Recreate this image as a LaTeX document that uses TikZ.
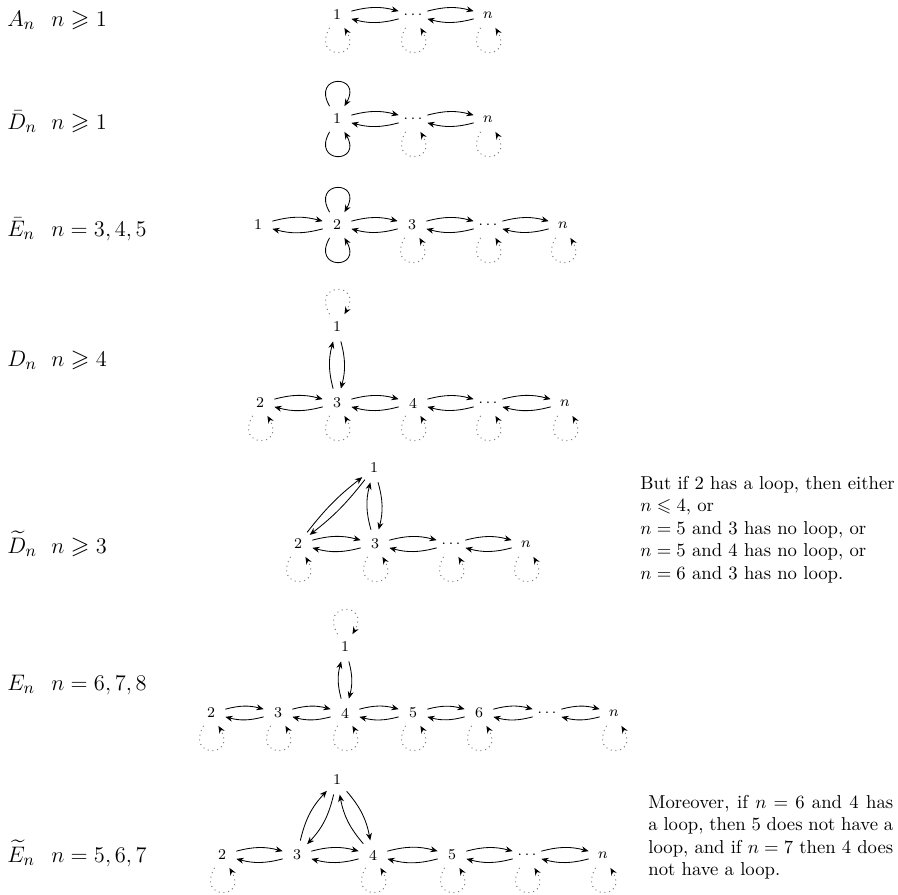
\documentclass[tikz,border=0pt]{standalone}
\usepackage{amssymb}
\usetikzlibrary{arrows.meta}
\begin{document}
\begin{tikzpicture}[x=0.535pt,y=0.535pt,
  v/.style={circle,inner sep=0pt,minimum size=15.5pt,font=\fontsize{8}{9}\selectfont},
  lab/.style={anchor=base west,inner sep=0pt,font=\fontsize{13}{16}\selectfont},
  ar/.style={-{Stealth[length=3.9pt,width=3.2pt]},line width=0.45pt},
  pr/.style={ar,bend left=15},
  dg/.style={ar,bend left=7},
  dl/.style={draw=gray,dotted,line width=0.55pt,-{Stealth[length=3.9pt,width=3.2pt,color=black]}},
  sl/.style={ar},
  lb/.style={out=240,in=300,min distance=20pt,max distance=20pt},
  la/.style={out=120,in=60,min distance=20pt,max distance=20pt},
  txt/.style={anchor=north west,inner sep=0pt,font=\fontsize{10}{12}\selectfont}
]
\useasboundingbox (0,0) rectangle (898,-894);

% ---------- labels ----------
\node[lab] (LA)  at (7,-26)  {$A_n$};
\node[lab] (CA)  at (51,-26) {$n\geqslant 1$};
\node[lab] (LDb) at (7,-129) {$\bar{D}_n$};
\node[lab] (CDb) at (51,-129) {$n\geqslant 1$};
\node[lab] (LEb) at (7,-236) {$\bar{E}_n$};
\node[lab] (CEb) at (51,-236) {$n=3,4,5$};
\node[lab] (LD)  at (7,-366) {$D_n$};
\node[lab] (CD)  at (51,-366) {$n\geqslant 4$};
\node[lab] (LDt) at (7,-553) {$\widetilde{D}_n$};
\node[lab] (CDt) at (51,-553) {$n\geqslant 3$};
\node[lab] (LE)  at (7,-690) {$E_n$};
\node[lab] (CE)  at (51,-690) {$n=6,7,8$};
\node[lab] (LEt) at (7,-862) {$\widetilde{E}_n$};
\node[lab] (CEt) at (51,-862) {$n=5,6,7$};

% ---------- A_n ----------
\node[v] (a1) at (337,-15) {1};
\node[v] (a2) at (413,-15) {$\cdotp\cdotp\cdotp$};
\node[v] (a3) at (488,-15) {$n$};
\draw[pr] (a1) to (a2); \draw[pr] (a2) to (a1);
\draw[pr] (a2) to (a3); \draw[pr] (a3) to (a2);
\foreach \q in {a1,a2,a3} \draw[dl] (\q) to[lb] (\q);

% ---------- bar D_n ----------
\node[v] (b1) at (337,-119) {1};
\node[v] (b2) at (413,-119) {$\cdotp\cdotp\cdotp$};
\node[v] (b3) at (488,-119) {$n$};
\draw[pr] (b1) to (b2); \draw[pr] (b2) to (b1);
\draw[pr] (b2) to (b3); \draw[pr] (b3) to (b2);
\draw[sl] (b1) to[la] (b1);
\draw[sl] (b1) to[lb] (b1);
\foreach \q in {b2,b3} \draw[dl] (\q) to[lb] (\q);

% ---------- bar E_n ----------
\node[v] (c1) at (258,-225) {1};
\node[v] (c2) at (337,-225) {2};
\node[v] (c3) at (412,-225) {3};
\node[v] (c4) at (488,-225) {$\cdotp\cdotp\cdotp$};
\node[v] (c5) at (563,-225) {$n$};
\draw[pr] (c1) to (c2); \draw[pr] (c2) to (c1);
\draw[pr] (c2) to (c3); \draw[pr] (c3) to (c2);
\draw[pr] (c3) to (c4); \draw[pr] (c4) to (c3);
\draw[pr] (c4) to (c5); \draw[pr] (c5) to (c4);
\draw[sl] (c2) to[la] (c2);
\draw[sl] (c2) to[lb] (c2);
\foreach \q in {c3,c4,c5} \draw[dl] (\q) to[lb] (\q);

% ---------- D_n ----------
\node[v] (d1) at (337,-327) {1};
\node[v] (d2) at (260,-403) {2};
\node[v] (d3) at (337,-403) {3};
\node[v] (d4) at (413,-403) {4};
\node[v] (d5) at (488,-403) {$\cdotp\cdotp\cdotp$};
\node[v] (d6) at (565,-403) {$n$};
\draw[pr] (d2) to (d3); \draw[pr] (d3) to (d2);
\draw[pr] (d3) to (d4); \draw[pr] (d4) to (d3);
\draw[pr] (d4) to (d5); \draw[pr] (d5) to (d4);
\draw[pr] (d5) to (d6); \draw[pr] (d6) to (d5);
\draw[pr] (d3) to (d1); \draw[pr] (d1) to (d3);
\draw[dl] (d1) to[la] (d1);
\foreach \q in {d2,d3,d4,d5,d6} \draw[dl] (\q) to[lb] (\q);

% ---------- tilde D_n ----------
\node[v] (e1) at (374,-468) {1};
\node[v] (e2) at (298,-544) {2};
\node[v] (e3) at (375,-544) {3};
\node[v] (e4) at (451,-544) {$\cdotp\cdotp\cdotp$};
\node[v] (e5) at (526,-544) {$n$};
\draw[pr] (e2) to (e3); \draw[pr] (e3) to (e2);
\draw[pr] (e3) to (e4); \draw[pr] (e4) to (e3);
\draw[pr] (e4) to (e5); \draw[pr] (e5) to (e4);
\draw[dg] (e2) to (e1); \draw[dg] (e1) to (e2);
\draw[pr] (e3) to (e1); \draw[pr] (e1) to (e3);
\foreach \q in {e2,e3,e4,e5} \draw[dl] (\q) to[lb] (\q);

% ---------- E_n ----------
\node[v] (f1) at (345,-647) {1};
\node[v] (f2) at (211,-713) {2};
\node[v] (f3) at (278,-713) {3};
\node[v] (f4) at (345,-713) {4};
\node[v] (f5) at (413,-713) {5};
\node[v] (f6) at (479,-713) {6};
\node[v] (f7) at (547,-713) {$\cdotp\cdotp\cdotp$};
\node[v] (f8) at (614,-713) {$n$};
\draw[pr] (f2) to (f3); \draw[pr] (f3) to (f2);
\draw[pr] (f3) to (f4); \draw[pr] (f4) to (f3);
\draw[pr] (f4) to (f5); \draw[pr] (f5) to (f4);
\draw[pr] (f5) to (f6); \draw[pr] (f6) to (f5);
\draw[pr] (f6) to (f7); \draw[pr] (f7) to (f6);
\draw[pr] (f7) to (f8); \draw[pr] (f8) to (f7);
\draw[pr] (f4) to (f1); \draw[pr] (f1) to (f4);
\draw[dl] (f1) to[la] (f1);
\foreach \q in {f2,f3,f4,f5,f6,f8} \draw[dl] (\q) to[lb] (\q);

% ---------- tilde E_n ----------
\node[v] (g1) at (337,-780) {1};
\node[v] (g2) at (222,-855) {2};
\node[v] (g3) at (297,-855) {3};
\node[v] (g4) at (373,-855) {4};
\node[v] (g5) at (452,-855) {5};
\node[v] (g6) at (527,-855) {$\cdotp\cdotp\cdotp$};
\node[v] (g7) at (603,-855) {$n$};
\draw[pr] (g2) to (g3); \draw[pr] (g3) to (g2);
\draw[pr] (g3) to (g4); \draw[pr] (g4) to (g3);
\draw[pr] (g4) to (g5); \draw[pr] (g5) to (g4);
\draw[pr] (g5) to (g6); \draw[pr] (g6) to (g5);
\draw[pr] (g6) to (g7); \draw[pr] (g7) to (g6);
\draw[pr] (g3) to (g1); \draw[pr] (g1) to (g3);
\draw[pr] (g4) to (g1); \draw[pr] (g1) to (g4);
\foreach \q in {g2,g4,g5,g6,g7} \draw[dl] (\q) to[lb] (\q);

% ---------- side texts ----------
\node[txt,align=left] (T1) at (640,-476) {But if 2 has a loop, then either\\
$n\leqslant 4$, or\\
$n=5$ and 3 has no loop, or\\
$n=5$ and 4 has no loop, or\\
$n=6$ and 3 has no loop.};
\node[txt,text width=131pt,align=justify] (T2) at (648,-795) {Moreover, if $n=6$ and 4 has\linebreak a loop, then 5 does not have a\linebreak loop, and if $n=7$ then 4 does\linebreak not have a loop.};
\end{tikzpicture}
\end{document}
